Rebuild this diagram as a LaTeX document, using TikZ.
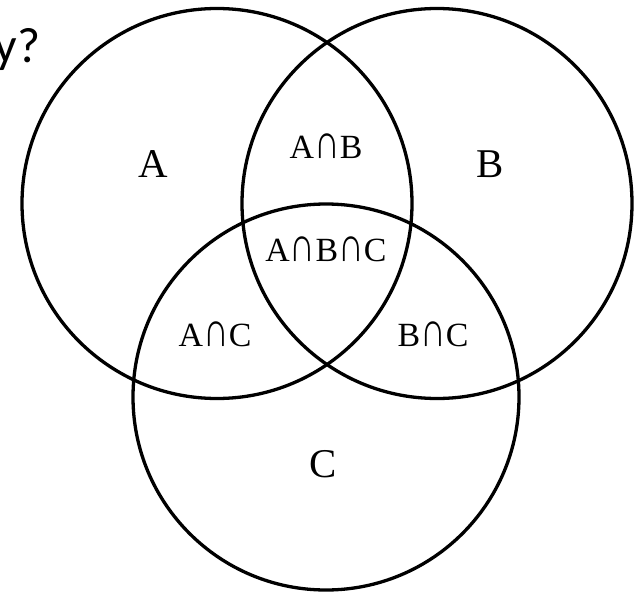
\documentclass[tikz,border=0pt]{standalone}
\usepackage{fontspec}
\usepackage{graphicx}
\setmainfont{Liberation Serif}
\newfontfamily\qfont{Carlito}
\newcommand{\capsym}{\scalebox{1.05}[1.45]{∩}}
\begin{document}
\begin{tikzpicture}[x=1bp,y=-1bp,
  setcircle/.style={draw=black,line width=3.3bp},
  biglabel/.style={font=\fontsize{41}{41}\selectfont},
  smalllabel/.style={font=\fontsize{34}{34}\selectfont}]
\useasboundingbox (0,0) rectangle (641,594);
\clip (0,0) rectangle (641,594);
\fill[white] (0,0) rectangle (641,594);
\node[setcircle,circle,minimum size=390bp,inner sep=0pt] (cA) at (217,203.5) {};
\node[setcircle,circle,minimum size=390bp,inner sep=0pt] (cB) at (437,203.5) {};
\node[setcircle,circle,minimum size=386bp,inner sep=0pt] (cC) at (326,397) {};
\node[biglabel] (lA) at (153,164) {A};
\node[biglabel] (lB) at (490,164) {B};
\node[biglabel] (lC) at (323,464) {C};
\node[smalllabel] (lAB) at (326,146) {A\capsym B};
\node[smalllabel] (lABC) at (326,249) {A\capsym B\capsym C};
\node[smalllabel] (lAC) at (215,334) {A\capsym C};
\node[smalllabel] (lBC) at (433,334) {B\capsym C};
\node[font=\qfont\fontsize{50}{50}\selectfont,anchor=east] (q) at (44,50) {y?};
\end{tikzpicture}
\end{document}
